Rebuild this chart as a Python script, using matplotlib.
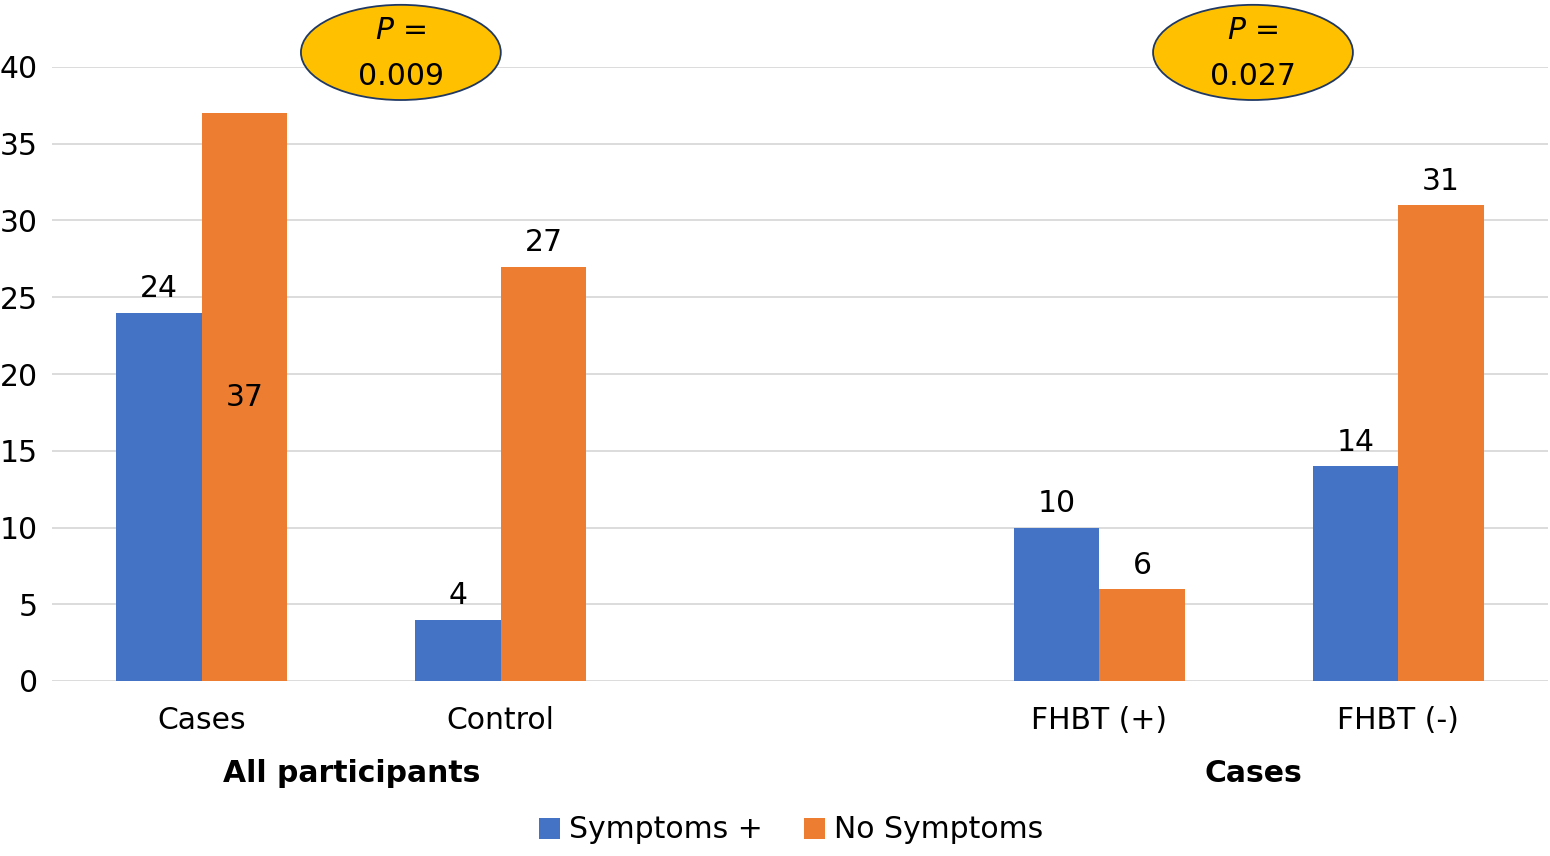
import numpy as np
import matplotlib.pyplot as plt
from matplotlib.patches import Ellipse

plt.rcParams['font.family'] = ['DejaVu Sans']

# data
categories = ['Cases', 'Control', '', 'FHBT (+)', 'FHBT (-)']
symptoms = [24, 4, None, 10, 14]
no_symptoms = [37, 27, None, 6, 31]
groups = ['All participants', 'Cases']
p_values = ['0.009', '0.027']

blue = '#4472C4'
orange = '#ED7D31'

fig = plt.figure(figsize=(15.5, 8.56), dpi=100)
ax = fig.add_axes([52 / 1550, 1 - 681 / 856, 1496 / 1550, 614 / 856])

x = np.arange(len(categories))
w = 0.286
idx = [i for i, v in enumerate(symptoms) if v is not None]
s_vals = [symptoms[i] for i in idx]
n_vals = [no_symptoms[i] for i in idx]
xi = x[idx]

b1 = ax.bar(xi - w / 2, s_vals, w, color=blue, label='Symptoms +', zorder=3)
b2 = ax.bar(xi + w / 2, n_vals, w, color=orange, label='No Symptoms', zorder=3)

fs = 21.5
for xx, v in zip(xi - w / 2, s_vals):
    ax.text(xx, v + 0.6, str(v), ha='center', va='bottom', fontsize=fs)
for xx, v in zip(xi + w / 2, n_vals):
    if v == max(n_vals):
        # this label sits inside the bar in the original
        ax.text(xx, v / 2, str(v), ha='center', va='center', fontsize=fs)
    else:
        ax.text(xx, v + 0.6, str(v), ha='center', va='bottom', fontsize=fs)

ax.set_xlim(-0.5, 4.5)
ax.set_ylim(0, 40)
ax.set_yticks(range(0, 41, 5))
ax.set_xticks(xi)
ax.set_xticklabels([categories[i] for i in idx], fontsize=fs)
ax.tick_params(axis='both', length=0, labelsize=fs)
ax.tick_params(axis='x', pad=18)
ax.tick_params(axis='y', pad=10)
ax.grid(axis='y', color='#D9D9D9', linewidth=1.3, zorder=0)
for s in ax.spines.values():
    s.set_visible(False)

# group labels
ax.text(0.5, -6.0, groups[0], ha='center', va='center', fontsize=fs, fontweight='bold')
ax.text(3.515, -6.0, groups[1], ha='center', va='center', fontsize=fs, fontweight='bold')

# p-value ellipses
for cx, p in zip([0.666, 3.514], p_values):
    e = Ellipse((cx, 40.95), 0.668, 6.2, facecolor='#FFC000', edgecolor='#1F3864',
                linewidth=1.3, clip_on=False, zorder=5)
    ax.add_patch(e)
    ax.text(cx, 42.4, r'$\it{P}$ =', ha='center', va='center', fontsize=fs, zorder=6)
    ax.text(cx, 39.4, p, ha='center', va='center', fontsize=fs, zorder=6)

fig.legend(handles=[b1, b2], loc='center', bbox_to_anchor=(791 / 1550, 1 - 830 / 856),
           ncol=2, frameon=False, fontsize=fs, handlelength=0.7, handleheight=0.7,
           handletextpad=0.3, columnspacing=1.4)

fig.savefig('out.png', dpi=100)
